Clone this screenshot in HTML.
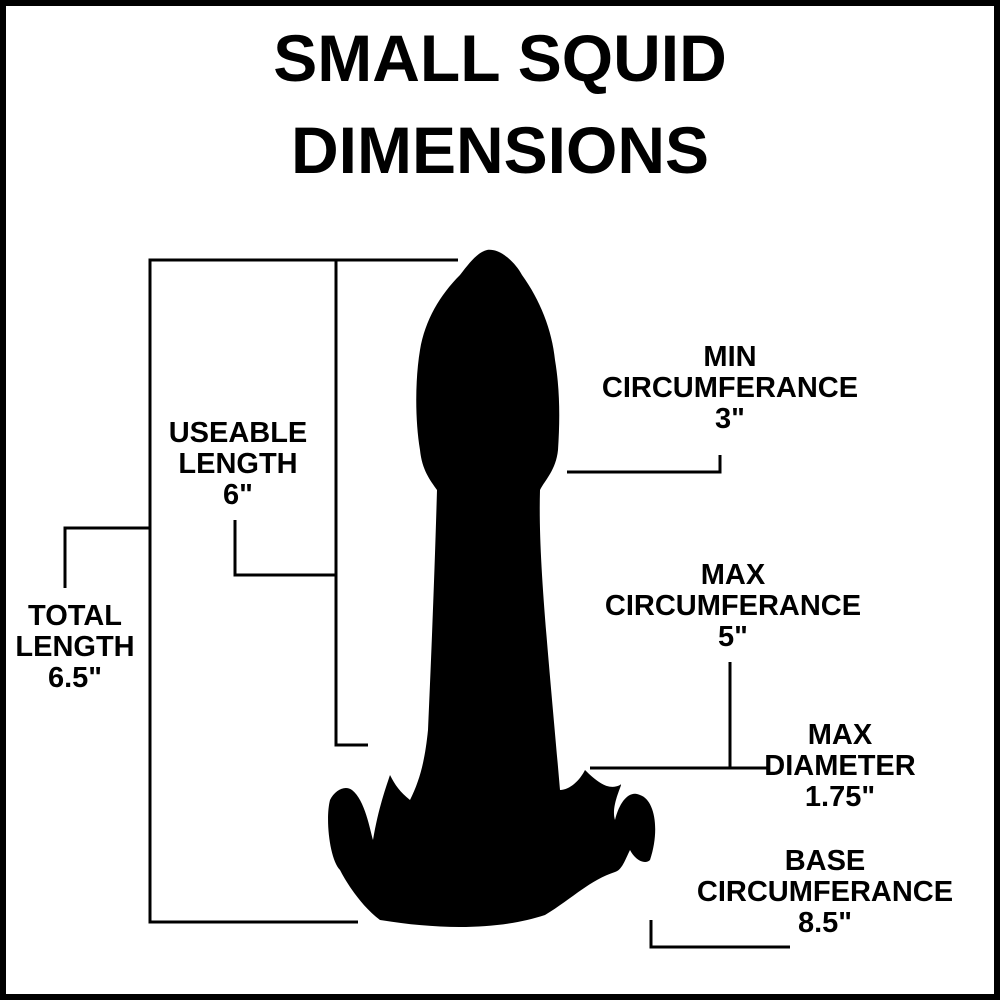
<!DOCTYPE html>
<html><head><meta charset="utf-8"><style>
html,body{margin:0;padding:0;background:#fff}
#c{position:relative;width:1000px;height:1000px;overflow:hidden}
.t{position:absolute;font-family:"Liberation Sans",sans-serif;text-align:center;color:#000}
.l{position:absolute;font-family:"Liberation Sans",sans-serif;font-size:29px;line-height:31px;text-align:center;color:#000;font-weight:bold}
</style></head><body><div id="c">
<svg width="1000" height="1000" style="position:absolute;left:0;top:0">
<rect x="3" y="3" width="994" height="994" fill="none" stroke="#000" stroke-width="6"/>
<g stroke="#000" stroke-width="3" fill="none">
<polyline points="458,260 150,260 150,922 358,922"/>
<polyline points="150,528 65,528 65,588"/>
<polyline points="336,260 336,745 368,745"/>
<polyline points="336,575 235,575 235,520"/>
<polyline points="567,472 720,472 720,455"/>
<line x1="730" y1="662" x2="730" y2="768"/>
<line x1="590" y1="768" x2="770" y2="768"/>
<polyline points="651,920 651,947 790,947"/>
</g>
<path fill="#000" d="M487,250 C500,248 515,262 522,275 C540,300 552,330 555,360 C560,390 560,420 558,450 C556,470 545,480 540,490 C538,560 548,650 560,790 C570,790 580,780 585,770 C600,785 610,790 620,785 C625,780 610,805 615,820 C620,800 630,790 640,795 C655,800 660,830 650,860 C645,865 635,860 630,850 C625,860 622,870 615,872 C590,880 570,900 545,915 C500,930 440,930 380,920 C360,905 345,880 340,870 C330,860 325,820 330,800 C335,790 345,785 352,790 C365,800 370,830 373,840 C378,810 385,790 390,775 C395,785 400,792 410,800 C420,780 425,760 428,730 C432,640 435,560 437,490 C430,480 422,470 420,450 C415,420 415,380 420,350 C425,320 440,295 460,275 C470,262 478,252 487,250 Z"/>
</svg>
<div class="t" style="left:0;top:12px;width:1000px;font-size:66px;line-height:92px;font-weight:bold">SMALL SQUID<br>DIMENSIONS</div>
<div class="l" style="left:138px;top:418px;width:200px">USEABLE<br>LENGTH<br>6"</div>
<div class="l" style="left:-25px;top:601px;width:200px">TOTAL<br>LENGTH<br>6.5"</div>
<div class="l" style="left:580px;top:342px;width:300px">MIN<br>CIRCUMFERANCE<br>3"</div>
<div class="l" style="left:583px;top:560px;width:300px">MAX<br>CIRCUMFERANCE<br>5"</div>
<div class="l" style="left:740px;top:720px;width:200px">MAX<br>DIAMETER<br>1.75"</div>
<div class="l" style="left:675px;top:846px;width:300px">BASE<br>CIRCUMFERANCE<br>8.5"</div>
</div></body></html>
